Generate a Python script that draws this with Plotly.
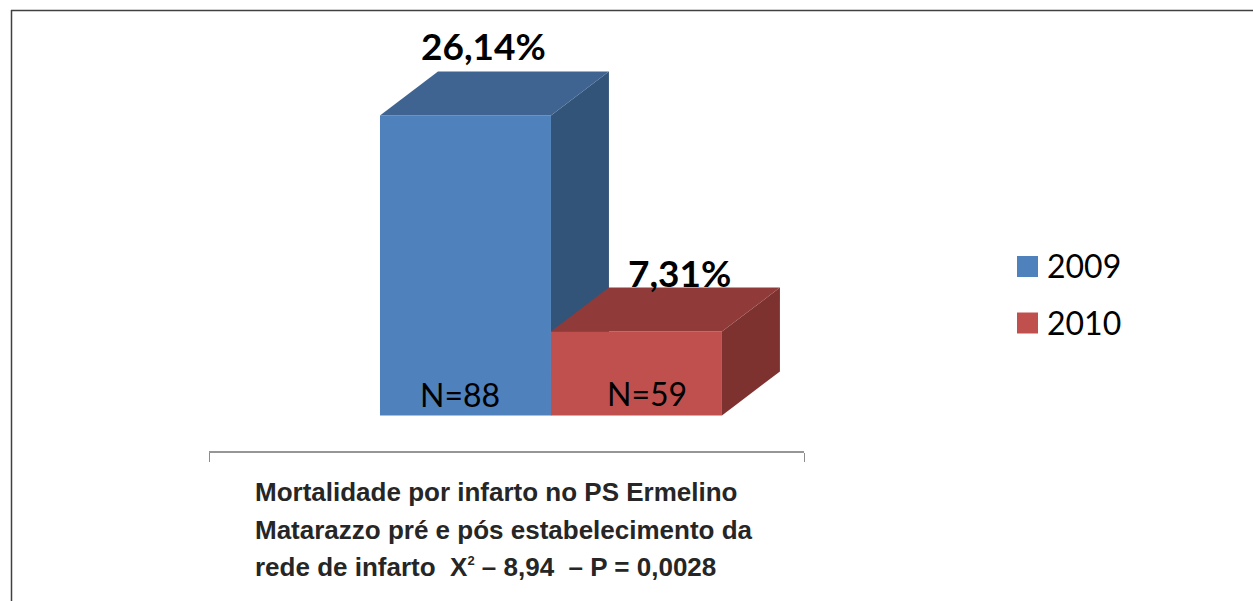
import plotly.graph_objects as go

years = ["2009", "2010"]
mortality = [26.14, 7.31]
mortality_labels = ["26,14%", "7,31%"]
n_labels = ["N=88", "N=59"]
front_colors = ["#4F81BD", "#C0504D"]
top_colors = ["#3F6491", "#903B3A"]
side_colors = ["#335479", "#7D3230"]
caption_lines = ["Mortalidade por infarto no PS Ermelino",
                 "Matarazzo pré e pós estabelecimento da",
                 "rede de infarto  X<sup><span style=\"font-size:13px\">2</span></sup> – 8,94  – P = 0,0028"]

W, H = 1253, 601
DX = 58 / 171
DY = 44 / 11.477
X_RANGE = [-1.5, 1.98]
Y_RANGE = [-3.093, 36.2]
X_DOMAIN = [209 / W, 804 / W]
Y_DOMAIN = [150 / H, 1]

fig = go.Figure()
suffix = [("x", "y"), ("x2", "y2")]
for i, v in enumerate(mortality):
    xa, ya = suffix[i]
    l, r = i - 0.5, i + 0.5
    fig.add_trace(go.Bar(x=[i], y=[v], width=1, name=years[i], xaxis=xa, yaxis=ya,
                         marker=dict(color=front_colors[i], line=dict(width=0)), showlegend=False))
    fig.add_trace(go.Scatter(x=[r, r + DX, r + DX, r, r], y=[0, DY, v + DY, v, 0],
                             fill="toself", fillcolor=side_colors[i], mode="lines",
                             line=dict(width=0), xaxis=xa, yaxis=ya, showlegend=False, hoverinfo="skip"))
    fig.add_trace(go.Scatter(x=[l, r, r + DX, l + DX, l], y=[v, v, v + DY, v + DY, v],
                             fill="toself", fillcolor=top_colors[i], mode="lines",
                             line=dict(width=0), xaxis=xa, yaxis=ya, showlegend=False, hoverinfo="skip"))

annotations = []
label_shift = [(-11, 1), (14, -9)]
n_shift = [(-5, 0), (11, 1)]
for i, v in enumerate(mortality):
    annotations.append(dict(x=i + DX / 2, y=v + DY, xref="x", yref="y", text=f"<b>{mortality_labels[i]}</b>",
                            showarrow=False, yanchor="bottom", xanchor="center",
                            xshift=label_shift[i][0], yshift=label_shift[i][1],
                            font=dict(family="Lato, sans-serif", size=37, color="#000000")))
    annotations.append(dict(x=i, y=0, xref="x", yref="y", text=n_labels[i], showarrow=False,
                            yanchor="bottom", xanchor="center",
                            xshift=n_shift[i][0], yshift=n_shift[i][1],
                            font=dict(family="Lato, sans-serif", size=32, color="#000000")))

caption_y = [492, 530, 567]
for line, cy in zip(caption_lines, caption_y):
    annotations.append(dict(x=253 / W, y=1 - cy / H, xref="paper", yref="paper", text=f"<b>{line}</b>",
                            showarrow=False, xanchor="left", yanchor="middle", align="left",
                            font=dict(family="'Liberation Sans', sans-serif", size=26, color="#262626")))

shapes = [
    dict(type="line", xref="paper", yref="paper", x0=11 / W, x1=1, y0=1 - 10.5 / H, y1=1 - 10.5 / H,
         line=dict(color="#404040", width=1.5)),
    dict(type="line", xref="paper", yref="paper", x0=11.5 / W, x1=11.5 / W, y0=1 - 10 / H, y1=0,
         line=dict(color="#404040", width=1.5)),
]
legend_y = [266.5, 323]
legend_text_y = [265.5, 322]
for i, yr in enumerate(years):
    shapes.append(dict(type="rect", xref="paper", yref="paper", x0=1017 / W, x1=1038 / W,
                       y0=1 - (legend_y[i] - 10.5) / H, y1=1 - (legend_y[i] + 10.5) / H,
                       fillcolor=front_colors[i], line=dict(width=0)))
    annotations.append(dict(x=1045 / W, y=1 - legend_text_y[i] / H, xref="paper", yref="paper", text=yr,
                            showarrow=False, xanchor="left", yanchor="middle",
                            font=dict(family="Lato, sans-serif", size=32, color="#000000")))

fig.update_layout(
    width=W, height=H, autosize=False,
    margin=dict(l=0, r=0, t=0, b=0, pad=0),
    paper_bgcolor="white", plot_bgcolor="white",
    barmode="overlay", showlegend=False,
    shapes=shapes, annotations=annotations,
    xaxis=dict(domain=X_DOMAIN, range=X_RANGE, tickvals=X_RANGE, showticklabels=False, ticks="outside",
               ticklen=9, tickcolor="#8c8c8c", tickwidth=1, showline=True, linecolor="#969696", linewidth=2,
               showgrid=False, zeroline=False, fixedrange=True),
    yaxis=dict(domain=Y_DOMAIN, range=Y_RANGE, visible=False, showgrid=False, zeroline=False, fixedrange=True),
    xaxis2=dict(domain=X_DOMAIN, range=X_RANGE, overlaying="x", visible=False, fixedrange=True),
    yaxis2=dict(domain=Y_DOMAIN, range=Y_RANGE, overlaying="y", visible=False, fixedrange=True),
)
fig.write_html("out.html", config={"displayModeBar": False},
               post_script="document.body.style.margin='0';document.body.style.overflow='hidden';")
